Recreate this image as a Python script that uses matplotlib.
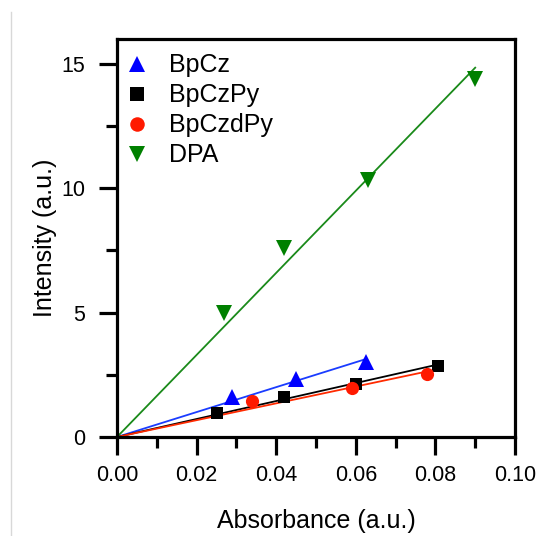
import numpy as np
import matplotlib
matplotlib.use('Agg')
import matplotlib.pyplot as plt
from matplotlib.lines import Line2D

plt.rcParams['font.family'] = ['Liberation Sans', 'DejaVu Sans']

# absorbance / intensity readings
bpcz_x = [0.029, 0.045, 0.0626]
bpcz_y = [1.6, 2.35, 3.0]
bpczpy_x = [0.025, 0.042, 0.060, 0.0807]
bpczpy_y = [0.98, 1.59, 2.15, 2.87]
bpczdpy_x = [0.034, 0.059, 0.078]
bpczdpy_y = [1.43, 1.95, 2.55]
dpa_x = [0.027, 0.042, 0.063, 0.090]
dpa_y = [5.0, 7.6, 10.35, 14.4]

series = [
    ('BpCz', bpcz_x, bpcz_y, '^', '#0000ff', '#1a3cff', 11),
    ('BpCzPy', bpczpy_x, bpczpy_y, 's', 'black', 'black', 9.3),
    ('BpCzdPy', bpczdpy_x, bpczdpy_y, 'o', '#ff1a00', '#ff2a00', 9.5),
    ('DPA', dpa_x, dpa_y, 'v', '#008000', '#1a8a1a', 11),
]

fig = plt.figure(figsize=(5.36, 5.36), dpi=100)
ax = fig.add_axes([117/536, 1-437/536, 398/536, 398/536])

for name, xs, ys, mk, mc, lc, ms in series:
    xs = np.array(xs); ys = np.array(ys)
    k = np.sum(xs*ys)/np.sum(xs*xs)  # fit through origin
    xl = np.array([0, xs.max()])
    ax.plot(xl, k*xl, color=lc, lw=1.3, zorder=2)
    ax.plot(xs, ys, ls='none', marker=mk, color=mc, ms=ms, mew=0,
            label=name, zorder=3)

ax.set_xlim(0, 0.10)
ax.set_ylim(0, 16)
ax.set_xticks(np.arange(0, 0.101, 0.02))
ax.set_xticks(np.arange(0.01, 0.1, 0.02), minor=True)
ax.set_yticks([0, 5, 10, 15])
ax.set_yticks([2.5, 7.5, 12.5], minor=True)
ax.xaxis.set_major_formatter(plt.FormatStrFormatter('%.2f'))
for s in ax.spines.values():
    s.set_linewidth(2.3)
ax.tick_params(which='major', direction='out', length=13, width=2.3,
               labelsize=15.5)
ax.tick_params(axis='x', which='major', pad=7)
ax.tick_params(axis='y', which='major', pad=10)
ax.tick_params(which='minor', direction='out', length=8, width=2.3)

ax.set_xlabel('Absorbance (a.u.)', fontsize=18, labelpad=17)
ax.set_ylabel('Intensity (a.u.)', fontsize=18, labelpad=3)

ax.legend(loc='upper left', bbox_to_anchor=(0.006, 0.964), frameon=False,
          fontsize=18, handletextpad=0.6, labelspacing=0.24,
          borderaxespad=0, borderpad=0, handlelength=1.4, markerscale=1.1)

fig.add_artist(Line2D([11/536, 11/536], [0, 1-12/536], color='#d8d8d8',
                      lw=1, transform=fig.transFigure))

fig.savefig('out.png', dpi=100)
